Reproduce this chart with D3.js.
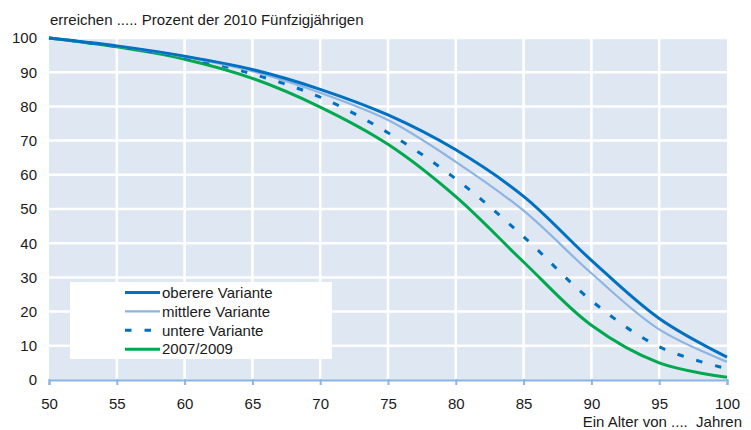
<!DOCTYPE html>
<html><head><meta charset="utf-8">
<script src="https://cdn.jsdelivr.net/npm/d3@7"></script>
<style>body{margin:0;background:#fff;}svg{display:block;font-family:"Liberation Sans",Arial,sans-serif;}text{white-space:pre;}</style>
</head><body>
<svg id="c" width="751" height="430"></svg>
<script>
const ages = [50,55,60,65,70,75,80,85,90,95,100];
const oberere = [100,97.7,94.7,90.8,85.0,77.5,67.3,53.7,35.0,18.0,6.7];
const mittlere = [100,97.6,94.5,90.3,84.0,76.0,63.8,49.5,31.2,14.8,5.3];
const untere = [100,97.5,94.3,89.5,82.7,72.3,58.8,41.9,23.2,9.7,3.3];
const basis = [100,97.4,93.8,88.2,79.8,68.9,53.6,34.5,16.0,5.0,0.8];
const xTicks = [50,55,60,65,70,75,80,85,90,95,100];
const yTicks = [0,10,20,30,40,50,60,70,80,90,100];
const seriesNames = ["oberere Variante","mittlere Variante","untere Variante","2007/2009"];
const title = "erreichen ..... Prozent der 2010 Fünfzigjährigen";
const xTitle = "Ein Alter von ....  Jahren";

const FS = 15;
const svg = d3.select("#c");
const x = d3.scaleLinear().domain([50,100]).range([49,727]);
const y = d3.scaleLinear().domain([0,100]).range([380,38]);

svg.append("rect").attr("x",x(50)).attr("y",y(100)).attr("width",x(100)-x(50)).attr("height",y(0)-y(100)).attr("fill","#dfe7f3");
svg.selectAll(".vg").data(xTicks.filter(d=>d>50&&d<100)).enter().append("line")
  .attr("x1",d=>x(d)).attr("x2",d=>x(d)).attr("y1",y(100)).attr("y2",y(0))
  .attr("stroke","#fff").attr("stroke-width",2.5);
svg.selectAll(".hg").data(yTicks.filter(d=>d>0)).enter().append("line")
  .attr("x1",x(50)).attr("x2",x(100)).attr("y1",d=>y(d)).attr("y2",d=>y(d))
  .attr("stroke","#fff").attr("stroke-width",2.5);

const styles = [
  {data:oberere, color:"#0070c0", w:3, dash:null},
  {data:mittlere, color:"#8db4e2", w:2.2, dash:null},
  {data:untere, color:"#0070c0", w:3, dash:"6.5,13"},
  {data:basis, color:"#00a94f", w:3, dash:null}
];
const line = d3.line().x((d,i)=>x(ages[i])).y(d=>y(d)).curve(d3.curveCatmullRom.alpha(0.5));
[3,2,1,0].forEach(k=>{
  const s = styles[k];
  svg.append("path").attr("d",line(s.data)).attr("fill","none")
    .attr("stroke",s.color).attr("stroke-width",s.w)
    .attr("stroke-dasharray",s.dash);
});

const xAxis = d3.axisBottom(x).tickValues(xTicks).tickSize(5).tickFormat(d3.format("d"));
const gx = svg.append("g").attr("transform",`translate(0,${y(0)})`).call(xAxis);
gx.select(".domain").attr("stroke","#8db4e2").attr("stroke-width",2);
gx.selectAll(".tick line").attr("stroke","#8db4e2").attr("stroke-width",2).attr("y1",-1);
gx.selectAll(".tick text").attr("font-size",FS).attr("fill","#1a1a1a").attr("dy",null).attr("y",29).style("font-family","Liberation Sans, Arial, sans-serif");

const yAxis = d3.axisLeft(y).tickValues(yTicks).tickSize(0).tickPadding(12);
const gy = svg.append("g").attr("transform",`translate(${x(50)},0)`).call(yAxis);
gy.select(".domain").remove();
gy.selectAll(".tick text").attr("font-size",FS).attr("fill","#1a1a1a").style("font-family","Liberation Sans, Arial, sans-serif");

svg.append("text").attr("x",50).attr("y",25).attr("font-size",FS).attr("fill","#1a1a1a").text(title);
svg.append("text").attr("x",742).attr("y",427).attr("text-anchor","end").attr("font-size",FS).attr("fill","#1a1a1a").text(xTitle);

const lg = svg.append("g");
lg.append("rect").attr("x",70).attr("y",282).attr("width",262).attr("height",77).attr("fill","#fff");
seriesNames.forEach((n,i)=>{
  const yy = 292.5 + i*18.9;
  const s = styles[i];
  lg.append("line").attr("x1",125).attr("x2",160).attr("y1",yy).attr("y2",yy)
    .attr("stroke",s.color).attr("stroke-width",s.w).attr("stroke-dasharray",s.dash);
  lg.append("text").attr("x",162).attr("y",yy).attr("dy","0.35em").attr("font-size",FS).attr("fill","#1a1a1a").text(n);
});
</script>
</body></html>
